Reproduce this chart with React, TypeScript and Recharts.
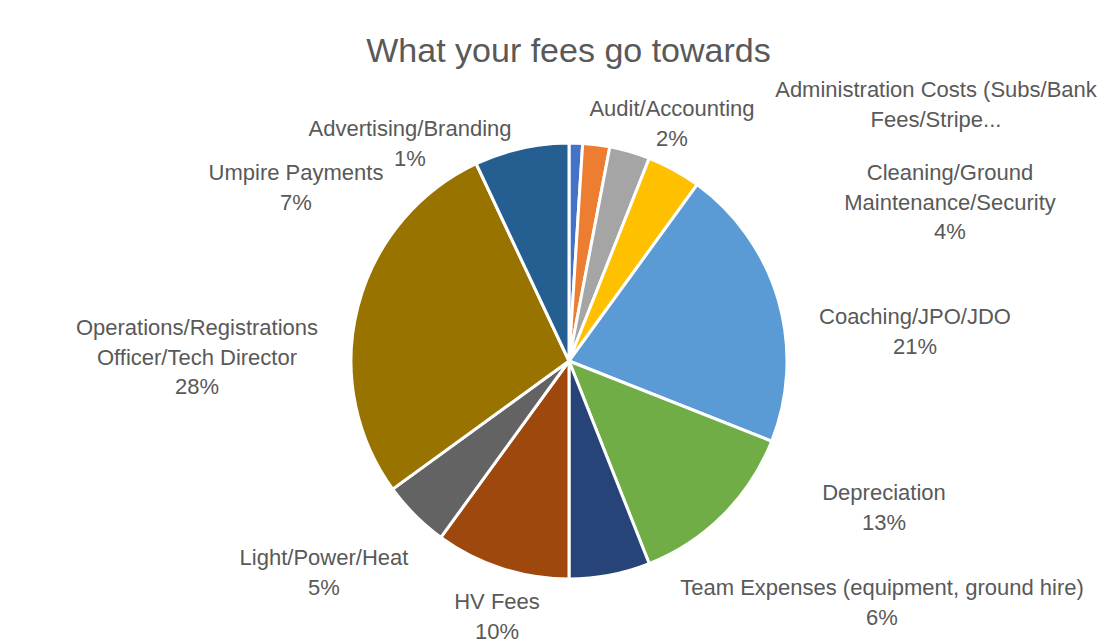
import { PieChart, Pie, Cell } from "recharts";

const categories = [
  "Advertising/Branding",
  "Audit/Accounting",
  "Administration Costs (Subs/Bank Fees/Stripe...",
  "Cleaning/Ground Maintenance/Security",
  "Coaching/JPO/JDO",
  "Depreciation",
  "Team Expenses (equipment, ground hire)",
  "HV Fees",
  "Light/Power/Heat",
  "Operations/Registrations Officer/Tech Director",
  "Umpire Payments",
];

const shares = [1, 2, 3, 4, 21, 13, 6, 10, 5, 28, 7];

// how each label wraps in the original (the admin label is cut off, so no %)
const labelLines = [
  ["Advertising/Branding"],
  ["Audit/Accounting"],
  ["Administration Costs (Subs/Bank", "Fees/Stripe..."],
  ["Cleaning/Ground", "Maintenance/Security"],
  ["Coaching/JPO/JDO"],
  ["Depreciation"],
  ["Team Expenses (equipment, ground hire)"],
  ["HV Fees"],
  ["Light/Power/Heat"],
  ["Operations/Registrations", "Officer/Tech Director"],
  ["Umpire Payments"],
];
const showPercent = [true, true, false, true, true, true, true, true, true, true, true];

const colors = [
  "#4472C4", "#ED7D31", "#A5A5A5", "#FFC000", "#5B9BD5", "#70AD47",
  "#264478", "#9E480E", "#636363", "#997300", "#255E91",
];

// best-fit label spots, offsets from the pie centre
const labelSpots = [
  [-159, -233], [103, -253], [367, -272], [381, -189], [346, -45], [315, 131],
  [313, 226], [-72, 240], [-245, 196], [-372, -34], [-273, -189],
];

const data = categories.map((name, i) => ({ name, value: shares[i] }));

const LINE_H = 29.5;
const FONT = "Liberation Sans, Arial, sans-serif";

function renderLabel(props: any) {
  const { cx, cy, index } = props;
  const [dx, dy] = labelSpots[index];
  const lines = [...labelLines[index]];
  if (showPercent[index]) lines.push(shares[index] + "%");
  return (
    <text
      x={cx + dx}
      y={cy + dy}
      textAnchor="middle"
      dominantBaseline="central"
      fill="#595959"
      fontSize={22}
      fontFamily={FONT}
    >
      {lines.map((l, k) => (
        <tspan key={k} x={cx + dx} dy={k === 0 ? 0 : LINE_H}>
          {l}
        </tspan>
      ))}
    </text>
  );
}

export default function App() {
  return (
    <div
      style={{
        marginLeft: -8,
        marginTop: -8,
        width: 1117,
        height: 643,
        position: "relative",
        overflow: "hidden",
        background: "#fff",
        boxShadow: "inset 4px 6px 0 -1px #fff, inset 6px 8px 0 -1px #CFCFCF",
      }}
    >
      <div
        style={{
          position: "absolute",
          top: 30,
          left: 0,
          width: 1137,
          textAlign: "center",
          fontFamily: FONT,
          fontSize: 34,
          lineHeight: "40px",
          color: "#595959",
        }}
      >
        What your fees go towards
      </div>
      <svg width={1117} height={643} style={{ position: "absolute", left: 0, top: 0 }}>
        <polyline points="4,700 4,6 1200,6" fill="none" stroke="#CCCCCC" strokeWidth={2} />
      </svg>
      <div style={{ position: "absolute", left: 0, top: 0 }}>
        <PieChart width={1117} height={643} margin={{ top: 0, right: 0, bottom: 0, left: 0 }}>
          <Pie
            data={data}
            dataKey="value"
            nameKey="name"
            cx={569}
            cy={361}
            outerRadius={218}
            startAngle={90}
            endAngle={-270}
            stroke="#fff"
            strokeWidth={3}
            label={renderLabel}
            labelLine={false}
            isAnimationActive={false}
          >
            {data.map((d, i) => (
              <Cell key={d.name} fill={colors[i]} />
            ))}
          </Pie>
        </PieChart>
      </div>
    </div>
  );
}
